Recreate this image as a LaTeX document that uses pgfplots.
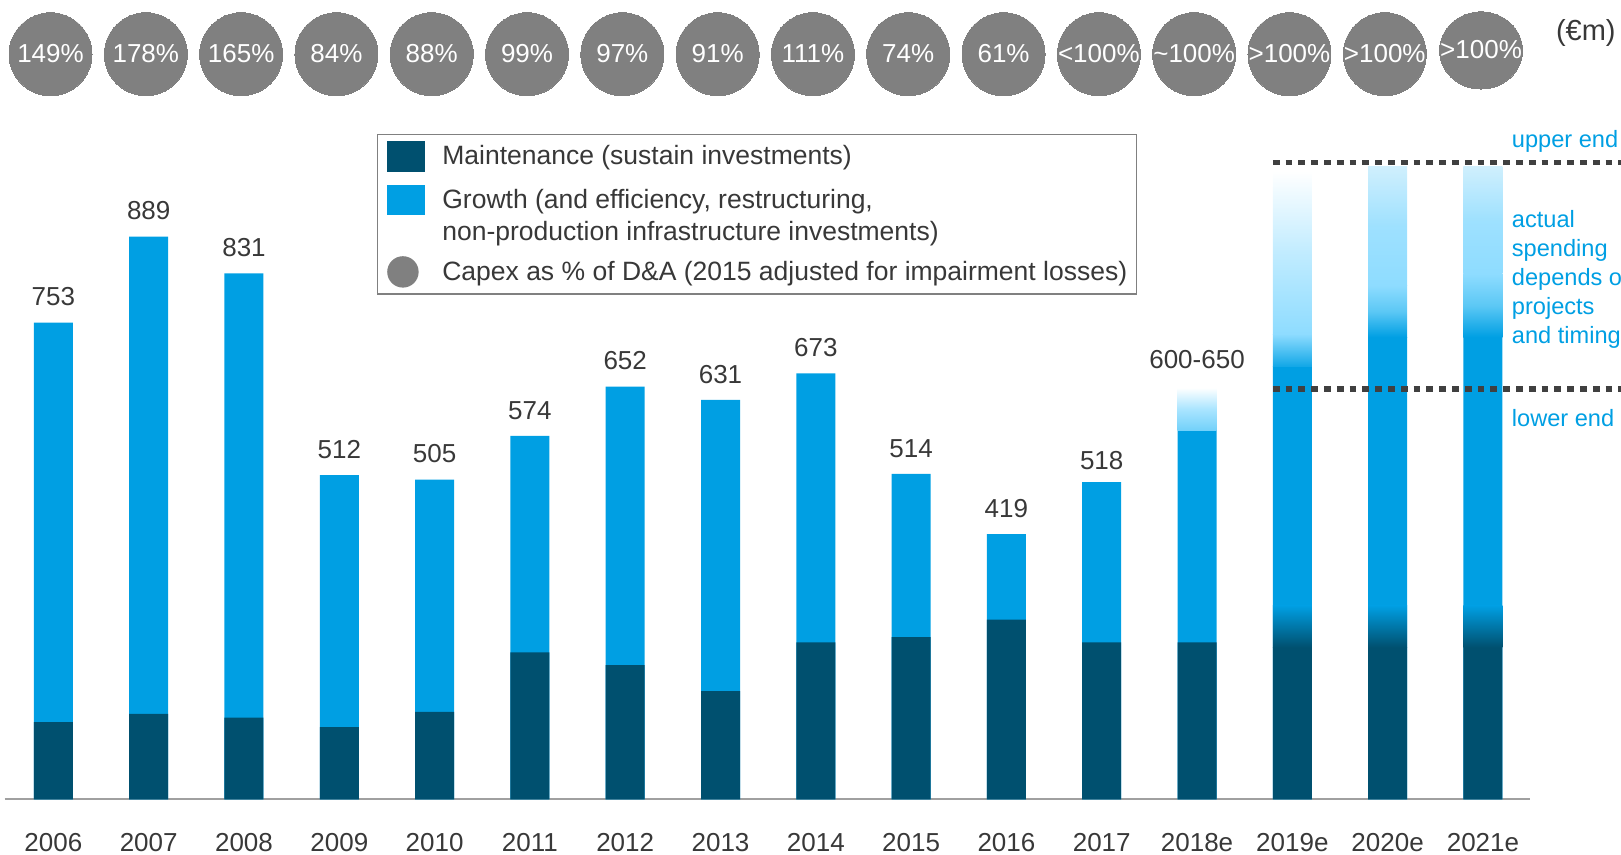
\documentclass[border=0pt]{standalone}
\usepackage{fontspec}
\setmainfont{Liberation Sans}
\usepackage{pgfplots}
\pgfplotsset{compat=1.18}
\usepackage{pgfplotstable}

\definecolor{mdark}{HTML}{00506F}
\definecolor{gblue}{HTML}{009FE3}
\definecolor{cgray}{HTML}{808080}
\definecolor{tgray}{HTML}{383838}
\definecolor{agray}{HTML}{A0A0A0}
\definecolor{dgray}{HTML}{404040}
\definecolor{lblue}{HTML}{8EDCFF}
\definecolor{mblue}{HTML}{5CC8F5}
\definecolor{pblue}{HTML}{CFEFFD}

% x = year index (0 = 2006), solid = top of solid blue part, maint = maintenance
\pgfplotstableread{
x solid maint
0 753 122
1 889 135
2 831 129
3 512 114
4 505 138
5 574 232
6 652 212
7 631 171
8 673 248
9 514 256
10 419 284
11 501 248
12 583 248
13 684 240
14 730 240
15 730 240
}\bars

\pgfplotstableread{
x y lab
0 753 753
1 889 889
2 831 831
3 512 512
4 505 505
5 574 574
6 652 652
7 631 631
8 673 673
9 514 514
10 419 419
11 495 518
12 655 600-650
}\vals

\begin{document}
\begin{tikzpicture}
\path[use as bounding box] (0pt,0pt) rectangle (810.5pt,427.5pt);
\clip (0pt,0pt) rectangle (810.5pt,427.5pt);
\begin{axis}[
  at={(2.25pt,27.85pt)}, anchor=south west,
  scale only axis, width=762.75pt, height=398.8pt,
  xmin=-0.513, xmax=15.494, ymin=0, ymax=1260,
  clip=false,
  axis x line*=bottom, axis y line=none,
  x axis line style={draw=agray, line width=1.2pt},
  xtick={0,...,15},
  xticklabels={2006,2007,2008,2009,2010,2011,2012,2013,2014,2015,2016,2017,2018e,2019e,2020e,2021e},
  xtick style={draw=none}, ytick=\empty,
  xticklabel style={font=\fontsize{13}{15}\selectfont, text=tgray, anchor=base, yshift=-26.3pt, inner sep=0pt},
  legend style={at={(0.2442,0.8341)}, anchor=north west,
    draw=cgray, line width=0.7pt,
    inner xsep=4.5pt, inner ysep=3.2pt,
    font=\fontsize{13.25}{16}\selectfont, text=tgray,
    row sep=6.6pt, column sep=8.6pt,
    cells={align=left}, nodes={inner sep=0pt}},
  legend cell align=left,
]
% solid bars
\addplot[forget plot, ybar, bar width=19.5pt, bar shift=0pt, fill=gblue, draw=none] table[x=x,y=solid]{\bars};
\addplot[forget plot, ybar, bar width=19.5pt, bar shift=0pt, fill=mdark, draw=none] table[x=x,y=maint]{\bars};
% 2018e top gradient
\addplot[forget plot, draw=none, bottom color=mblue!55!lblue, top color=white, middle color=lblue!75!white]
  coordinates {(11.7954,583) (12.2046,583) (12.2046,650) (11.7954,650)} -- cycle;
% forecast maintenance -> growth transitions
\addplot[forget plot, draw=none, bottom color=mdark, top color=gblue]
  coordinates {(12.7954,240) (13.2046,240) (13.2046,306) (12.7954,306)} -- cycle;
\addplot[forget plot, draw=none, bottom color=mdark, top color=gblue]
  coordinates {(13.7954,240) (14.2046,240) (14.2046,306) (13.7954,306)} -- cycle;
\addplot[forget plot, draw=none, bottom color=mdark, top color=gblue]
  coordinates {(14.7954,240) (15.2046,240) (15.2046,306) (14.7954,306)} -- cycle;
% 2019e upper gradient
\addplot[forget plot, draw=none, bottom color=gblue!80!mblue, top color=lblue]
  coordinates {(12.7954,684) (13.2046,684) (13.2046,735) (12.7954,735)} -- cycle;
\addplot[forget plot, draw=none, bottom color=lblue, top color=white, middle color=lblue!55!white]
  coordinates {(12.7954,735) (13.2046,735) (13.2046,992) (12.7954,992)} -- cycle;
% 2020e upper gradient
\addplot[forget plot, draw=none, bottom color=gblue, top color=lblue, middle color=mblue]
  coordinates {(13.7954,730) (14.2046,730) (14.2046,812) (13.7954,812)} -- cycle;
\addplot[forget plot, draw=none, bottom color=lblue, top color=pblue, middle color=lblue!75!pblue]
  coordinates {(13.7954,812) (14.2046,812) (14.2046,999) (13.7954,999)} -- cycle;
% 2021e upper gradient
\addplot[forget plot, draw=none, bottom color=gblue, top color=lblue, middle color=mblue]
  coordinates {(14.7954,730) (15.2046,730) (15.2046,830) (14.7954,830)} -- cycle;
\addplot[forget plot, draw=none, bottom color=lblue, top color=pblue, middle color=lblue!75!pblue]
  coordinates {(14.7954,830) (15.2046,830) (15.2046,999) (14.7954,999)} -- cycle;
% dotted range lines
\addplot[forget plot, dgray, line width=2.8pt, dash pattern=on 3.4pt off 3pt] coordinates {(12.795,1006) (16.6,1006)};
\addplot[forget plot, dgray, line width=2.8pt, dash pattern=on 3.4pt off 3pt] coordinates {(12.795,648) (16.6,648)};
% value labels
\addplot[forget plot, draw=none, nodes near coords, point meta=explicit symbolic,
  every node near coord/.style={font=\fontsize{13}{15}\selectfont, text=tgray, inner sep=0pt, yshift=8pt}]
  table[x=x, y=y, meta=lab]{\vals};
% capex circles
\addplot[forget plot, only marks, color=cgray, mark=*, mark size=20.75pt, mark options={draw=cgray, fill=cgray, line width=0pt}]
  coordinates {(-0.03,1177) (0.97,1177) (1.97,1177) (2.97,1177) (3.97,1177) (4.97,1177) (5.97,1177) (6.97,1177) (7.97,1177) (8.97,1177) (9.97,1177) (10.97,1177) (11.97,1177) (12.97,1177) (13.97,1177)};
\addplot[forget plot, only marks, color=cgray, mark=*, mark size=20.75pt, mark options={draw=cgray, fill=cgray, line width=0pt, yscale=0.93}]
  coordinates {(14.98,1183)};
\addplot[forget plot, draw=none, nodes near coords, point meta=explicit symbolic,
  every node near coord/.style={font=\fontsize{13}{15}\selectfont, text=white, inner sep=0pt}]
  coordinates {(-0.03,1162.3) [149\%] (0.97,1162.3) [178\%] (1.97,1162.3) [165\%] (2.97,1162.3) [84\%]
   (3.97,1162.3) [88\%] (4.97,1162.3) [99\%] (5.97,1162.3) [97\%] (6.97,1162.3) [91\%]
   (7.97,1162.3) [111\%] (8.97,1162.3) [74\%] (9.97,1162.3) [61\%] (10.97,1162.3) [<100\%]
   (11.97,1162.3) [\textasciitilde100\%] (12.97,1162.3) [>100\%] (13.97,1162.3) [>100\%] (14.98,1169) [>100\%]};
% legend
\addlegendimage{legend image code/.code={\fill[mdark] (0pt,-7.25pt) rectangle (18.5pt,7.25pt);}}
\addlegendentry{Maintenance (sustain investments)}
\addlegendimage{legend image code/.code={\fill[gblue] (0pt,0.75pt) rectangle (18.5pt,15.25pt);}}
\addlegendentry{Growth (and efficiency, restructuring,\\non-production infrastructure investments)}
\addlegendimage{legend image code/.code={\fill[cgray] (7.75pt,0pt) circle (7.5pt);}}
\addlegendentry{Capex as \% of D\&A (2015 adjusted for impairment losses)}
\end{axis}
\node[anchor=east, font=\fontsize{14.5}{17}\selectfont, text=tgray, inner sep=0pt] at (808pt,411pt) {(€m)};
\begin{scope}[every node/.style={anchor=base west, inner sep=0pt, text=gblue, font=\fontsize{11.8}{14.5}\selectfont}]
\node at (755.75pt,353.6pt) {upper end};
\node at (755.75pt,313.6pt) {actual};
\node at (755.75pt,299.1pt) {spending};
\node at (755.75pt,284.6pt) {depends on};
\node at (755.75pt,270.15pt) {projects};
\node at (755.75pt,255.7pt) {and timing};
\node at (755.75pt,214.35pt) {lower end};
\end{scope}
\end{tikzpicture}
\end{document}
